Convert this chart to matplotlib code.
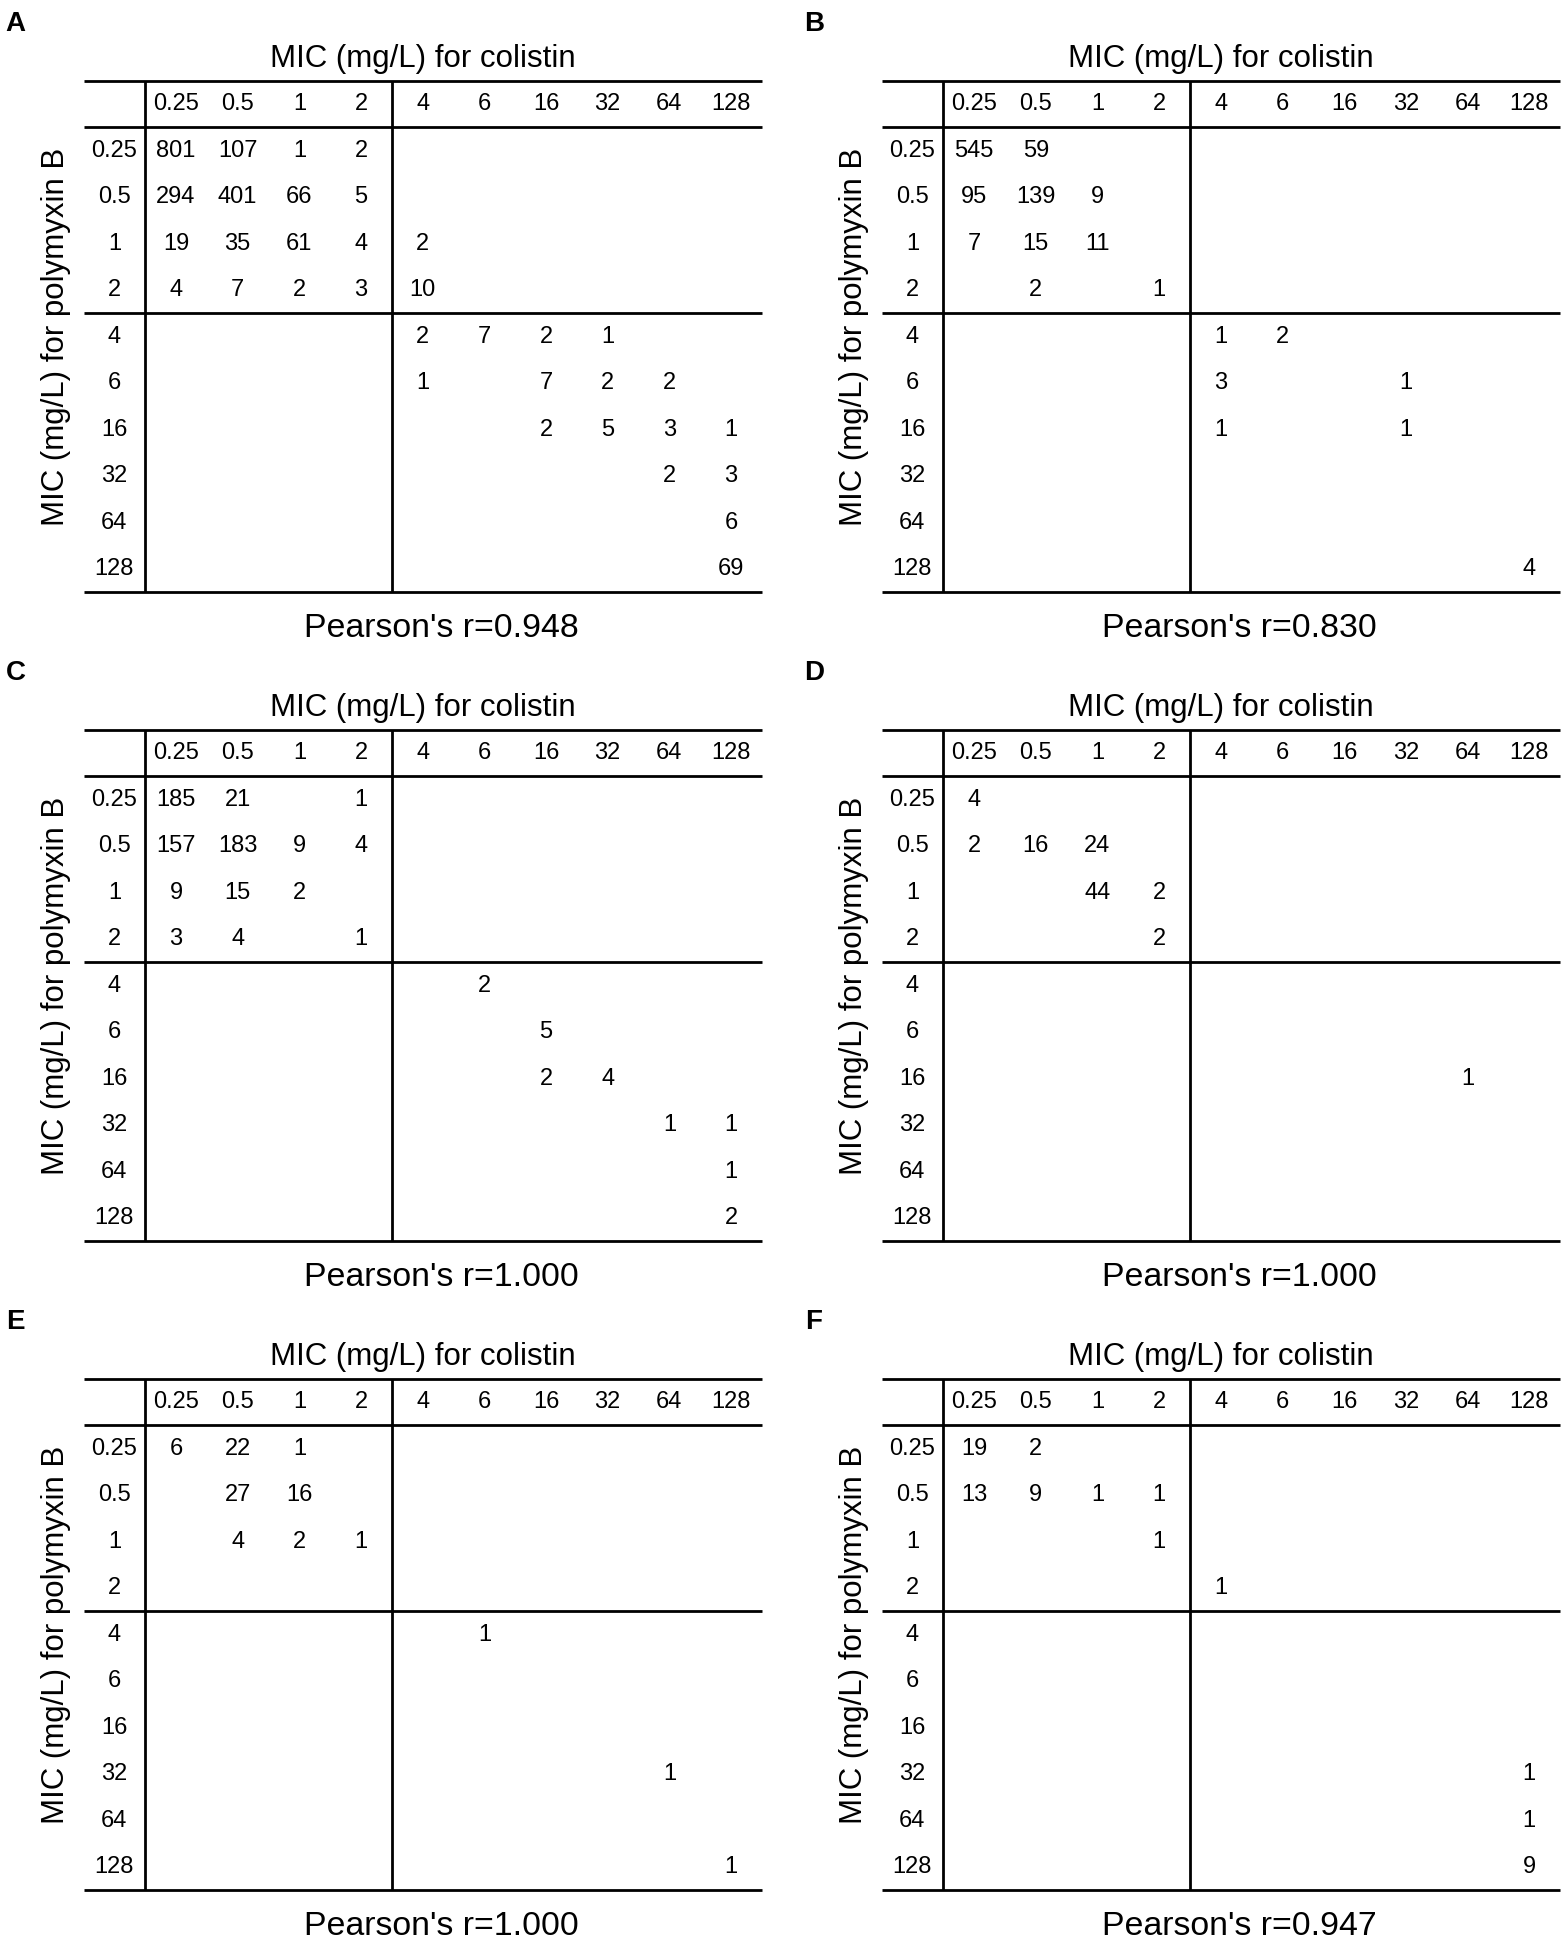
import matplotlib
matplotlib.use('Agg')
import matplotlib.pyplot as plt
from matplotlib import font_manager

# MIC categories (mg/L), same for both drugs
mic_labels = ['0.25', '0.5', '1', '2', '4', '6', '16', '32', '64', '128']
n_low = 4  # categories <= 2 mg/L, separated by the inner lines

# rows: polymyxin B MIC, columns: colistin MIC (0 = empty cell)
counts_a = [
    [801, 107, 1, 2, 0, 0, 0, 0, 0, 0],
    [294, 401, 66, 5, 0, 0, 0, 0, 0, 0],
    [19, 35, 61, 4, 2, 0, 0, 0, 0, 0],
    [4, 7, 2, 3, 10, 0, 0, 0, 0, 0],
    [0, 0, 0, 0, 2, 7, 2, 1, 0, 0],
    [0, 0, 0, 0, 1, 0, 7, 2, 2, 0],
    [0, 0, 0, 0, 0, 0, 2, 5, 3, 1],
    [0, 0, 0, 0, 0, 0, 0, 0, 2, 3],
    [0, 0, 0, 0, 0, 0, 0, 0, 0, 6],
    [0, 0, 0, 0, 0, 0, 0, 0, 0, 69],
]
counts_b = [
    [545, 59, 0, 0, 0, 0, 0, 0, 0, 0],
    [95, 139, 9, 0, 0, 0, 0, 0, 0, 0],
    [7, 15, 11, 0, 0, 0, 0, 0, 0, 0],
    [0, 2, 0, 1, 0, 0, 0, 0, 0, 0],
    [0, 0, 0, 0, 1, 2, 0, 0, 0, 0],
    [0, 0, 0, 0, 3, 0, 0, 1, 0, 0],
    [0, 0, 0, 0, 1, 0, 0, 1, 0, 0],
    [0, 0, 0, 0, 0, 0, 0, 0, 0, 0],
    [0, 0, 0, 0, 0, 0, 0, 0, 0, 0],
    [0, 0, 0, 0, 0, 0, 0, 0, 0, 4],
]
counts_c = [
    [185, 21, 0, 1, 0, 0, 0, 0, 0, 0],
    [157, 183, 9, 4, 0, 0, 0, 0, 0, 0],
    [9, 15, 2, 0, 0, 0, 0, 0, 0, 0],
    [3, 4, 0, 1, 0, 0, 0, 0, 0, 0],
    [0, 0, 0, 0, 0, 2, 0, 0, 0, 0],
    [0, 0, 0, 0, 0, 0, 5, 0, 0, 0],
    [0, 0, 0, 0, 0, 0, 2, 4, 0, 0],
    [0, 0, 0, 0, 0, 0, 0, 0, 1, 1],
    [0, 0, 0, 0, 0, 0, 0, 0, 0, 1],
    [0, 0, 0, 0, 0, 0, 0, 0, 0, 2],
]
counts_d = [
    [4, 0, 0, 0, 0, 0, 0, 0, 0, 0],
    [2, 16, 24, 0, 0, 0, 0, 0, 0, 0],
    [0, 0, 44, 2, 0, 0, 0, 0, 0, 0],
    [0, 0, 0, 2, 0, 0, 0, 0, 0, 0],
    [0, 0, 0, 0, 0, 0, 0, 0, 0, 0],
    [0, 0, 0, 0, 0, 0, 0, 0, 0, 0],
    [0, 0, 0, 0, 0, 0, 0, 0, 1, 0],
    [0, 0, 0, 0, 0, 0, 0, 0, 0, 0],
    [0, 0, 0, 0, 0, 0, 0, 0, 0, 0],
    [0, 0, 0, 0, 0, 0, 0, 0, 0, 0],
]
counts_e = [
    [6, 22, 1, 0, 0, 0, 0, 0, 0, 0],
    [0, 27, 16, 0, 0, 0, 0, 0, 0, 0],
    [0, 4, 2, 1, 0, 0, 0, 0, 0, 0],
    [0, 0, 0, 0, 0, 0, 0, 0, 0, 0],
    [0, 0, 0, 0, 0, 1, 0, 0, 0, 0],
    [0, 0, 0, 0, 0, 0, 0, 0, 0, 0],
    [0, 0, 0, 0, 0, 0, 0, 0, 0, 0],
    [0, 0, 0, 0, 0, 0, 0, 0, 1, 0],
    [0, 0, 0, 0, 0, 0, 0, 0, 0, 0],
    [0, 0, 0, 0, 0, 0, 0, 0, 0, 1],
]
counts_f = [
    [19, 2, 0, 0, 0, 0, 0, 0, 0, 0],
    [13, 9, 1, 1, 0, 0, 0, 0, 0, 0],
    [0, 0, 0, 1, 0, 0, 0, 0, 0, 0],
    [0, 0, 0, 0, 1, 0, 0, 0, 0, 0],
    [0, 0, 0, 0, 0, 0, 0, 0, 0, 0],
    [0, 0, 0, 0, 0, 0, 0, 0, 0, 0],
    [0, 0, 0, 0, 0, 0, 0, 0, 0, 0],
    [0, 0, 0, 0, 0, 0, 0, 0, 0, 1],
    [0, 0, 0, 0, 0, 0, 0, 0, 0, 1],
    [0, 0, 0, 0, 0, 0, 0, 0, 0, 9],
]

panel_letters = ['A', 'B', 'C', 'D', 'E', 'F']
panel_counts = [counts_a, counts_b, counts_c, counts_d, counts_e, counts_f]
pearson_r = [0.948, 0.830, 1.000, 1.000, 1.000, 0.947]

# narrow font for table cells if present
names = set(f.name for f in font_manager.fontManager.ttflist)
if 'Liberation Sans Narrow' in names:
    cell_font = ['Liberation Sans Narrow']
    cell_size = 18.5
else:
    cell_font = ['Liberation Sans', 'DejaVu Sans']
    cell_size = 17
text_font = ['Liberation Sans', 'DejaVu Sans']

W, H = 1562, 1942
fig = plt.figure(figsize=(W / 100, H / 100), dpi=100)

col_w = 61.67
row_h = 46.5
n = len(mic_labels)


def draw_panel(ax, counts, letter, r):
    ax.set_xlim(-1.5, n - 0.5)
    ax.set_ylim(n - 0.5, -1.5)
    ax.axis('off')

    lw = 2.0
    ax.hlines([-1.5, -0.5, n_low - 0.5, n - 0.5], -1.5, n - 0.5,
              colors='black', lw=lw, clip_on=False)
    ax.vlines([-0.5, n_low - 0.5], -1.5, n - 0.5,
              colors='black', lw=lw, clip_on=False)

    for j, lab in enumerate(mic_labels):
        ax.text(j, -1, lab, ha='center', va='center',
                family=cell_font, fontsize=cell_size)
    for i, lab in enumerate(mic_labels):
        ax.text(-1, i, lab, ha='center', va='center',
                family=cell_font, fontsize=cell_size)
    for i, row in enumerate(counts):
        for j, v in enumerate(row):
            if v:
                ax.text(j, i, str(v), ha='center', va='center',
                        family=cell_font, fontsize=cell_size)

    ax.text(4.0, -1.97, 'MIC (mg/L) for colistin', ha='center', va='center',
            family=text_font, fontsize=22.5)
    ax.text(-1.95, 4.0, 'MIC (mg/L) for polymyxin B', ha='center', va='center',
            rotation=90, family=text_font, fontsize=22.5)
    ax.text(4.3, 10.27, "Pearson's r=%.3f" % r, ha='center', va='center',
            family=text_font, fontsize=24.4)
    ax.text(-2.6, -2.72, letter, ha='center', va='center',
            family=text_font, fontsize=20, fontweight='bold')


lefts = [83.5, 881.6]
tops = [80.8, 729.8, 1378.8]
for k, (counts, letter, r) in enumerate(zip(panel_counts, panel_letters, pearson_r)):
    left = lefts[k % 2]
    top = tops[k // 2]
    w = (n + 1) * col_w
    h = (n + 1) * row_h
    ax = fig.add_axes([left / W, 1 - (top + h) / H, w / W, h / H])
    draw_panel(ax, counts, letter, r)

fig.savefig('out.png', dpi=100, facecolor='white')
